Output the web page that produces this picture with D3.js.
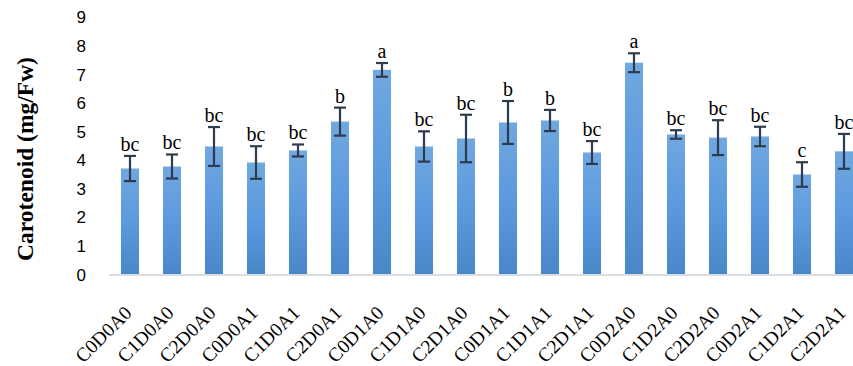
<!DOCTYPE html>
<html>
<head>
<meta charset="utf-8">
<script src="https://cdn.jsdelivr.net/npm/d3@7"></script>
<style>
  html, body { margin: 0; padding: 0; background: #fff; overflow: hidden; }
  svg { display: block; }
</style>
</head>
<body>
<svg id="chart" width="853" height="366"></svg>
<script>
// Treatment combinations
const categories = ["C0D0A0","C1D0A0","C2D0A0","C0D0A1","C1D0A1","C2D0A1",
  "C0D1A0","C1D1A0","C2D1A0","C0D1A1","C1D1A1","C2D1A1",
  "C0D2A0","C1D2A0","C2D2A0","C0D2A1","C1D2A1","C2D2A1"];
// Mean carotenoid content (mg/Fw)
const means = [3.69, 3.76, 4.46, 3.90, 4.32, 5.33,
  7.14, 4.46, 4.74, 5.30, 5.37, 4.25,
  7.39, 4.88, 4.77, 4.81, 3.48, 4.29];
// Standard error
const errors = [0.44, 0.42, 0.68, 0.57, 0.21, 0.49,
  0.24, 0.53, 0.83, 0.75, 0.37, 0.40,
  0.33, 0.15, 0.61, 0.34, 0.43, 0.61];
// Significance groups
const letters = ["bc","bc","bc","bc","bc","b",
  "a","bc","bc","b","b","bc",
  "a","bc","bc","bc","c","bc"];
const yTicks = [0,1,2,3,4,5,6,7,8,9];

const svg = d3.select("#chart");
const plotLeft = 109, plotRight = 865, plotBottom = 274, plotTop = 16.7;

const x = d3.scaleBand().domain(categories).range([plotLeft, plotRight]).paddingInner(0.57).paddingOuter(0.285);
const y = d3.scaleLinear().domain([0, 9]).range([plotBottom, plotTop]);

const defs = svg.append("defs");
const grad = defs.append("linearGradient").attr("id", "barFill")
  .attr("x1", 0).attr("y1", 0).attr("x2", 0).attr("y2", 1);
grad.append("stop").attr("offset", "0%").attr("stop-color", "#70a8e0");
grad.append("stop").attr("offset", "50%").attr("stop-color", "#5c9ade");
grad.append("stop").attr("offset", "100%").attr("stop-color", "#4887c8");

// Y axis labels (no axis line)
const yAxis = d3.axisLeft(y).tickValues(yTicks).tickSize(0).tickPadding(0);
const gy = svg.append("g").attr("transform", `translate(86,0)`).call(yAxis);
gy.select(".domain").remove();
gy.selectAll("text")
  .attr("font-family", "'Liberation Sans', Arial, sans-serif")
  .attr("font-size", 17).attr("fill", "#000").attr("dy", "0.36em");

// Bars
svg.append("g").selectAll("rect").data(categories).join("rect")
  .attr("x", d => x(d))
  .attr("y", (d, i) => y(means[i]))
  .attr("width", x.bandwidth())
  .attr("height", (d, i) => y(0) - y(means[i]))
  .attr("fill", "url(#barFill)");

// Category axis baseline
svg.append("line")
  .attr("x1", plotLeft).attr("x2", 853)
  .attr("y1", plotBottom + 1).attr("y2", plotBottom + 1)
  .attr("stroke", "#d9dde3").attr("stroke-width", 2);

// Error bars
const eb = svg.append("g").attr("stroke", "#2f3b4f").attr("stroke-width", 2.2);
categories.forEach((c, i) => {
  const cx = x(c) + x.bandwidth() / 2;
  const hi = y(means[i] + errors[i]), lo = y(means[i] - errors[i]);
  eb.append("line").attr("x1", cx).attr("x2", cx).attr("y1", hi).attr("y2", lo);
  eb.append("line").attr("x1", cx - 6).attr("x2", cx + 6).attr("y1", hi).attr("y2", hi);
  eb.append("line").attr("x1", cx - 6).attr("x2", cx + 6).attr("y1", lo).attr("y2", lo);
});

// Significance letters
svg.append("g").selectAll("text").data(categories).join("text")
  .attr("x", d => x(d) + x.bandwidth() / 2)
  .attr("y", (d, i) => y(means[i] + errors[i]) - 5)
  .attr("text-anchor", "middle")
  .attr("font-family", "'Liberation Serif', 'Times New Roman', serif")
  .attr("font-size", 20).attr("fill", "#000")
  .text((d, i) => letters[i]);

// Category labels, rotated
const xAxis = d3.axisBottom(x).tickSize(0).tickPadding(0);
const gx = svg.append("g").attr("transform", `translate(0,${plotBottom})`).call(xAxis);
gx.select(".domain").remove();
gx.selectAll("text")
  .attr("font-family", "'Liberation Serif', 'Times New Roman', serif")
  .attr("font-size", 19.5).attr("fill", "#000")
  .attr("text-anchor", "end")
  .attr("dy", 0)
  .attr("transform", "translate(3,40) rotate(-45)");

// Y axis title
svg.append("text")
  .attr("transform", "translate(33,159) rotate(-90)")
  .attr("text-anchor", "middle")
  .attr("font-family", "'Liberation Serif', 'Times New Roman', serif")
  .attr("font-weight", "bold")
  .attr("font-size", 23.5)
  .attr("fill", "#000")
  .text("Carotenoid (mg/Fw)");
</script>
</body>
</html>
